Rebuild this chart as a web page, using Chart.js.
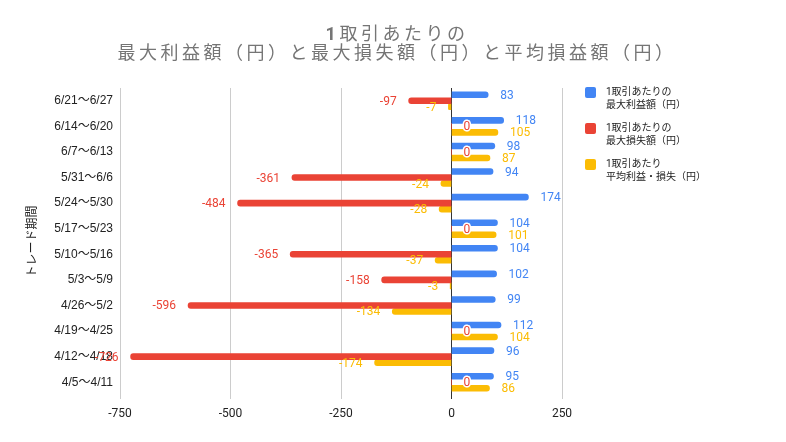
<!DOCTYPE html>
<html><head><meta charset="utf-8">
<script src="https://cdn.jsdelivr.net/npm/chart.js@4/dist/chart.umd.min.js"></script>
<style>
html,body{margin:0;padding:0;background:#fff;}
#wrap{position:relative;width:786px;height:442px;}
#title{position:absolute;left:4px;top:24px;width:786px;text-align:center;font-family:'Roboto','Noto Sans CJK JP',sans-serif;font-size:18px;line-height:19px;letter-spacing:3.5px;color:#757575;}
#legend{position:absolute;left:585px;top:86px;font-family:'Roboto','Noto Sans CJK JP',sans-serif;font-size:10px;color:#222;}
.item{position:relative;height:36px;}
.sw{position:absolute;left:0;top:1px;width:11px;height:11px;border-radius:2px;}
.tx{position:absolute;left:21px;top:0;line-height:12.5px;white-space:nowrap;}
</style></head>
<body><div id="wrap"><canvas id="c" width="786" height="442"></canvas>
<div id="title"></div>
<div id="legend"></div></div>
<script>
const titleLines = ["1取引あたりの","最大利益額（円）と最大損失額（円）と平均損益額（円）"];
const categories = ["6/21〜6/27","6/14〜6/20","6/7〜6/13","5/31〜6/6","5/24〜5/30","5/17〜5/23","5/10〜5/16","5/3〜5/9","4/26〜5/2","4/19〜4/25","4/12〜4/18","4/5〜4/11"];
const maxProfit = [83,118,98,94,174,104,104,102,99,112,96,95];
const maxLoss = [-97,0,0,-361,-484,0,-365,-158,-596,0,-726,0];
const avgPL = [-7,105,87,-24,-28,101,-37,-3,-134,104,-174,86];
const seriesNames = [["1取引あたりの","最大利益額（円）"],["1取引あたりの","最大損失額（円）"],["1取引あたり","平均利益・損失（円）"]];
const colors = ["#4285F4","#EA4335","#FBBC04"];
const xTicks = [-750,-500,-250,0,250];

document.getElementById('title').innerHTML = titleLines.map(t=>t.replace(/^(\d+)/,'<b>$1</b>')).join('<br>');
const leg = document.getElementById('legend');
seriesNames.forEach((n,i)=>{
  const d=document.createElement('div');d.className='item';
  d.innerHTML='<div class="sw" style="background:'+colors[i]+'"></div><div class="tx">'+n.join('<br>')+'</div>';
  leg.appendChild(d);
});

const labelPlugin = {
  id:'vlabels',
  afterDatasetsDraw(chart){
    const ctx=chart.ctx;
    ctx.save();
    ctx.font="12px 'Roboto', sans-serif";
    ctx.textBaseline='middle';
    chart.data.datasets.forEach((ds,di)=>{
      const meta=chart.getDatasetMeta(di);
      meta.data.forEach((el,i)=>{
        const v=ds.data[i];
        const txt=String(v);
        let x, align;
        if(v<0){x=el.x-12;align='right';}else{x=el.x+12;align='left';}
        ctx.textAlign=align;
        if(v===0){
          ctx.lineWidth=3;ctx.strokeStyle='#fff';ctx.lineJoin='round';
          ctx.strokeText(txt,x,el.y+1);
        }
        ctx.fillStyle=colors[di];
        ctx.fillText(txt,x,el.y+1);
      });
    });
    ctx.restore();
  }
};

new Chart(document.getElementById('c'),{
  type:'bar',
  data:{labels:categories,datasets:[
    {label:seriesNames[0].join(''),data:maxProfit,backgroundColor:colors[0]},
    {label:seriesNames[1].join(''),data:maxLoss,backgroundColor:colors[1]},
    {label:seriesNames[2].join(''),data:avgPL,backgroundColor:colors[2]}
  ].map(d=>Object.assign(d,{barThickness:6,borderRadius:3,borderSkipped:'start'}))},
  options:{
    indexAxis:'y',responsive:false,animation:false,
    layout:{padding:{left:20,right:224,top:88,bottom:0}},
    plugins:{legend:{display:false},tooltip:{enabled:false},title:{display:false}},
    scales:{
      x:{min:-750,max:250,
        afterBuildTicks(s){s.ticks=xTicks.map(v=>({value:v}));},
        afterFit(s){s.height=47;},
        grid:{color:c=>c.tick&&c.tick.value===0?'#333':'#ccc',tickLength:4,drawTicks:true},
        border:{display:false},
        ticks:{color:'#222',padding:8,font:{family:"'Roboto',sans-serif",size:12}}},
      y:{afterFit(s){s.width=100;},
        grid:{display:false,drawTicks:false},border:{display:false},
        ticks:{color:'#222',padding:7,font:{family:"'Liberation Sans','Noto Sans CJK JP',sans-serif",size:12}},
        title:{display:true,text:'トレード期間',color:'#222',font:{family:"'Noto Sans CJK JP',sans-serif",size:12}}}
    }
  },
  plugins:[labelPlugin]
});
</script></body></html>
